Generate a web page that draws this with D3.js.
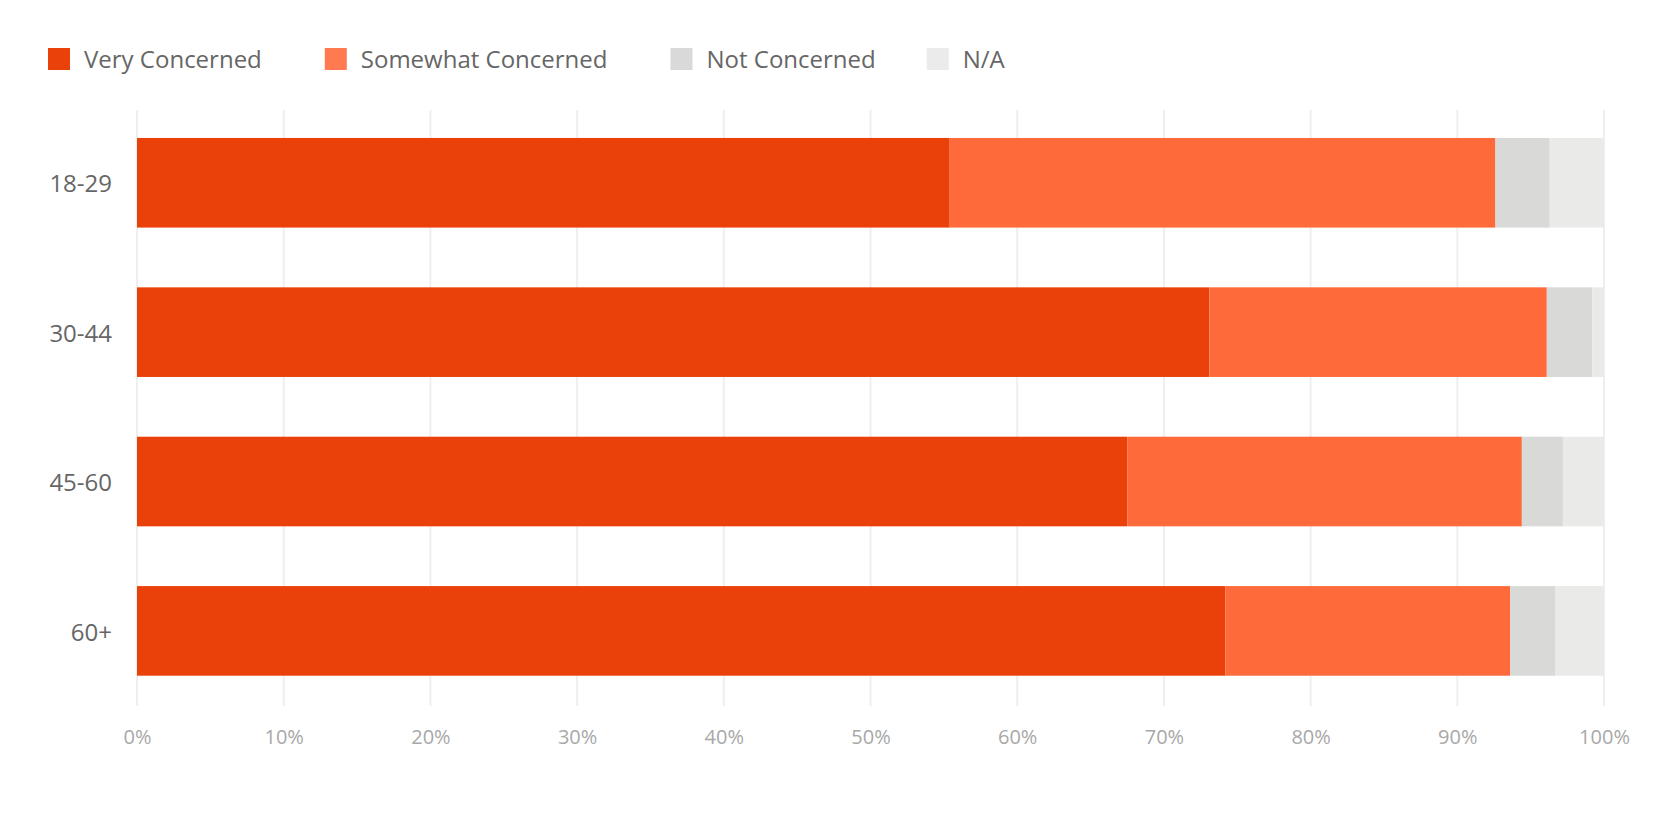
<!DOCTYPE html>
<html>
<head>
<meta charset="utf-8">
<script src="https://cdn.jsdelivr.net/npm/d3@7"></script>
<style>
  html, body { margin: 0; padding: 0; background: #fff; }
  svg { display: block; font-family: "Open Sans", sans-serif; }
</style>
</head>
<body>
<svg id="chart" width="1680" height="814"></svg>
<script>
// ---- data ----
const categories = ["18-29", "30-44", "45-60", "60+"];
const seriesNames = ["Very Concerned", "Somewhat Concerned", "Not Concerned", "N/A"];
const veryConcerned     = [55.4, 73.1, 67.5, 74.2];
const somewhatConcerned = [37.2, 23.0, 26.9, 19.4];
const notConcerned      = [3.7, 3.1, 2.8, 3.1];
const notAvailable      = [3.7, 0.8, 2.8, 3.3];
const tickValues = [0, 10, 20, 30, 40, 50, 60, 70, 80, 90, 100];

// ---- styles ----
const colors = ["#EA410B", "#FF6A3A", "#D9D9D7", "#EAEAE8"];
const legendColors = ["#EA410B", "#FF7A50", "#D9D9D9", "#EBEBEB"];
const legendGaps = [63, 63, 51];

const svg = d3.select("#chart");
const margin = { left: 137, right: 76, top: 110, bottom: 108 };
const W = 1680, H = 814;

const table = categories.map((c, i) => ({
  category: c,
  "Very Concerned": veryConcerned[i],
  "Somewhat Concerned": somewhatConcerned[i],
  "Not Concerned": notConcerned[i],
  "N/A": notAvailable[i]
}));

const stacked = d3.stack().keys(seriesNames)(table);

const x = d3.scaleLinear().domain([0, 100]).range([margin.left, W - margin.right]);
const y = d3.scaleBand().domain(categories)
  .range([margin.top, H - margin.bottom])
  .paddingInner(0.4).paddingOuter(0.195).align(0.48);

const color = d3.scaleOrdinal().domain(seriesNames).range(colors);

// gridlines
svg.append("g").selectAll("line")
  .data(tickValues)
  .join("line")
  .attr("x1", d => x(d)).attr("x2", d => x(d))
  .attr("y1", margin.top).attr("y2", H - margin.bottom)
  .attr("stroke", "#EFEFEF")
  .attr("stroke-width", 2);

// bars
svg.append("g").selectAll("g")
  .data(stacked)
  .join("g")
  .attr("fill", d => color(d.key))
  .selectAll("rect")
  .data(d => d)
  .join("rect")
  .attr("x", d => x(d[0]))
  .attr("width", d => x(d[1]) - x(d[0]))
  .attr("y", d => y(d.data.category))
  .attr("height", y.bandwidth());

// x axis labels
const xAxis = d3.axisBottom(x)
  .tickValues(tickValues)
  .tickFormat(d => d + "%")
  .tickSize(0)
  .tickPadding(0);
const gx = svg.append("g")
  .attr("transform", `translate(0, 737)`)
  .call(xAxis);
gx.select(".domain").remove();
gx.selectAll("text")
  .attr("dy", "0.35em")
  .attr("y", 0)
  .style("font-family", "'Open Sans', sans-serif")
  .style("font-size", "20px")
  .attr("fill", "#A8A8A8");

// y axis labels
const yAxis = d3.axisLeft(y).tickSize(0).tickPadding(25);
const gy = svg.append("g")
  .attr("transform", `translate(${margin.left}, 2)`)
  .call(yAxis);
gy.select(".domain").remove();
gy.selectAll("text")
  .style("font-family", "'Open Sans', sans-serif")
  .style("font-size", "24px")
  .attr("fill", "#666666");

// legend
const legend = svg.append("g").attr("transform", "translate(48, 48)");
let lx = 0;
seriesNames.forEach((name, i) => {
  const g = legend.append("g").attr("transform", `translate(${lx}, 0)`);
  g.append("rect")
    .attr("width", 22).attr("height", 22)
    .attr("fill", legendColors[i]);
  const t = g.append("text")
    .attr("x", 36).attr("y", 12)
    .attr("dy", "0.35em")
    .style("font-size", "24px")
    .attr("fill", "#666666")
    .text(name);
  if (i < legendGaps.length) lx += 36 + t.node().getComputedTextLength() + legendGaps[i];
});
</script>
</body>
</html>
